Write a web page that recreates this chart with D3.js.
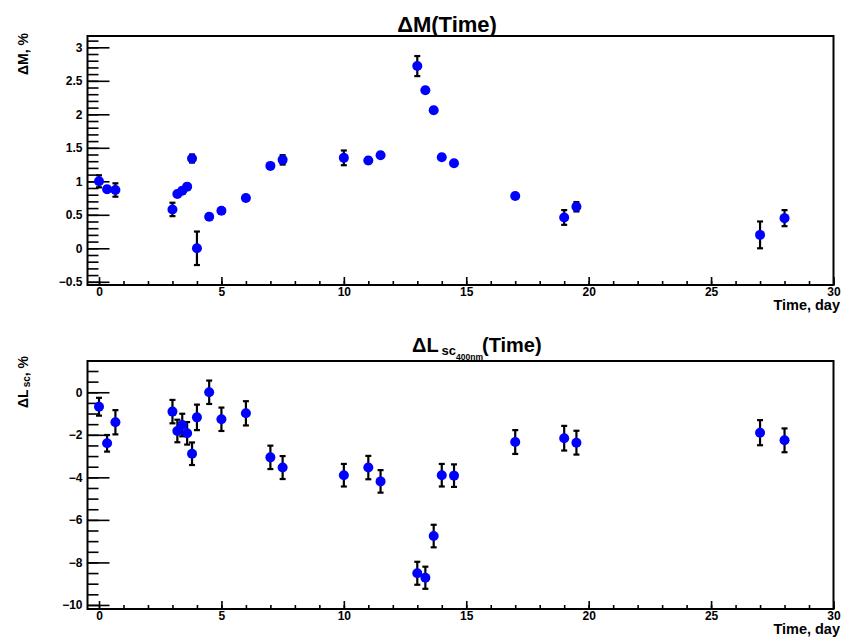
<!DOCTYPE html>
<html>
<head>
<meta charset="utf-8">
<script src="https://cdn.jsdelivr.net/npm/d3@7/dist/d3.min.js"></script>
<style>
  html, body { margin: 0; padding: 0; background: #ffffff; }
  svg { display: block; font-family: "Liberation Sans", Arial, Helvetica, sans-serif; font-weight: bold; }
</style>
</head>
<body>
<svg id="chart" width="844" height="642"></svg>
<script>
// Measurement days
const days = [0, 0.33, 0.67, 3, 3.2, 3.4, 3.6, 3.8, 4, 4.5, 5, 6, 7, 7.5,
              10, 11, 11.5, 13, 13.33, 13.67, 14, 14.5, 17, 19, 19.5, 27, 28];

// Mass change, % and its uncertainty
const massChange = [1.00, 0.88, 0.87, 0.58, 0.81, 0.86, 0.92, 1.34, 0.00, 0.47, 0.56, 0.75, 1.23, 1.32,
                    1.35, 1.31, 1.39, 2.72, 2.36, 2.06, 1.36, 1.27, 0.78, 0.46, 0.62, 0.20, 0.45];
const massErr = [0.09, 0.04, 0.10, 0.10, 0.04, 0.04, 0.04, 0.06, 0.25, 0.04, 0.04, 0.04, 0.04, 0.07,
                 0.11, 0.04, 0.04, 0.15, 0.04, 0.04, 0.04, 0.04, 0.04, 0.11, 0.07, 0.20, 0.12];

// Scintillation light yield change at 400 nm, % and its uncertainty
const lightChange = [-0.68, -2.40, -1.41, -0.91, -1.82, -1.54, -1.93, -2.89, -1.18, 0.00, -1.27, -0.99, -3.06, -3.54,
                     -3.90, -3.54, -4.19, -8.51, -8.72, -6.76, -3.90, -3.92, -2.34, -2.16, -2.37, -1.90, -2.26];
const lightErr = [0.42, 0.39, 0.57, 0.55, 0.53, 0.53, 0.53, 0.53, 0.60, 0.55, 0.55, 0.57, 0.55, 0.54,
                  0.53, 0.55, 0.53, 0.54, 0.52, 0.53, 0.53, 0.53, 0.56, 0.58, 0.56, 0.59, 0.56];

// Axis tick values and labels
const xMajorTicks = [0, 5, 10, 15, 20, 25, 30];
const massTicks = [-0.5, 0, 0.5, 1, 1.5, 2, 2.5, 3];
const massTickLabels = ["\u22120.5", "0", "0.5", "1", "1.5", "2", "2.5", "3"];
const lightTicks = [-10, -8, -6, -4, -2, 0];
const lightTickLabels = ["\u221210", "\u22128", "\u22126", "\u22124", "\u22122", "0"];

const svg = d3.select("#chart");

const frameLeft = 87.5, frameRight = 833.5;

function drawPanel(opts) {
  const g = svg.append("g");
  const x = d3.scaleLinear().domain([-0.47, 30]).range([frameLeft, frameRight]);
  const y = d3.scaleLinear().domain(opts.yDomain).range([opts.bottom, opts.top]);

  // x axis: minor ticks each day, major every 5 days, pointing into the frame
  g.append("g")
    .attr("transform", `translate(0,${opts.bottom})`)
    .call(d3.axisBottom(x).tickValues(d3.range(0, 31, 1)).tickSize(-4).tickFormat(""))
    .call(a => a.select(".domain").remove());
  const xa = g.append("g")
    .attr("transform", `translate(0,${opts.bottom})`)
    .call(d3.axisBottom(x).tickValues(xMajorTicks).tickSize(-8).tickPadding(2).tickFormat(d3.format("d")));
  xa.select(".domain").remove();
  xa.selectAll("text").attr("font-size", 12).attr("font-family", "Liberation Sans, Arial, sans-serif")
    .attr("font-weight", "bold").attr("fill", "#000");

  // y axis
  g.append("g")
    .attr("transform", `translate(${frameLeft},0)`)
    .call(d3.axisLeft(y).tickValues(opts.yMinor).tickSize(-11).tickFormat(""))
    .call(a => a.select(".domain").remove());
  const ya = g.append("g")
    .attr("transform", `translate(${frameLeft},0)`)
    .call(d3.axisLeft(y).tickValues(opts.yTicks).tickSize(-22).tickPadding(5)
      .tickFormat((d, i) => opts.yLabels[i]));
  ya.select(".domain").remove();
  ya.selectAll("text").attr("font-size", 12).attr("font-family", "Liberation Sans, Arial, sans-serif")
    .attr("font-weight", "bold").attr("fill", "#000");

  g.selectAll(".tick line").attr("stroke", "#000").attr("stroke-width", 1.6);

  // frame
  g.append("rect")
    .attr("x", frameLeft).attr("y", opts.top)
    .attr("width", frameRight - frameLeft).attr("height", opts.bottom - opts.top)
    .attr("fill", "none").attr("stroke", "#000").attr("stroke-width", 2);

  // error bars
  const pts = days.map((d, i) => ({ t: d, v: opts.values[i], e: opts.errors[i] }));
  const eb = g.append("g").attr("stroke", "#000").attr("stroke-width", 2.2);
  eb.selectAll("line.bar").data(pts).join("line").attr("class", "bar")
    .attr("x1", d => x(d.t)).attr("x2", d => x(d.t))
    .attr("y1", d => y(d.v - d.e)).attr("y2", d => y(d.v + d.e));
  eb.selectAll("line.capLo").data(pts).join("line").attr("class", "capLo")
    .attr("x1", d => x(d.t) - 3).attr("x2", d => x(d.t) + 3)
    .attr("y1", d => y(d.v - d.e)).attr("y2", d => y(d.v - d.e));
  eb.selectAll("line.capHi").data(pts).join("line").attr("class", "capHi")
    .attr("x1", d => x(d.t) - 3).attr("x2", d => x(d.t) + 3)
    .attr("y1", d => y(d.v + d.e)).attr("y2", d => y(d.v + d.e));

  // markers
  g.append("g").selectAll("circle").data(pts).join("circle")
    .attr("cx", d => x(d.t)).attr("cy", d => y(d.v)).attr("r", 5)
    .attr("fill", "#0000ff");

  // x title
  g.append("text")
    .attr("x", 840).attr("y", opts.bottom + 25)
    .attr("text-anchor", "end").attr("font-size", 14.5).attr("fill", "#000")
    .text("Time, day");

  return g;
}

drawPanel({
  top: 36, bottom: 285,
  yDomain: [-0.548, 3.169],
  yTicks: massTicks, yLabels: massTickLabels,
  yMinor: d3.range(-5, 32, 1).map(v => v / 10),
  values: massChange, errors: massErr
});

drawPanel({
  top: 361, bottom: 609,
  yDomain: [-10.19, 1.47],
  yTicks: lightTicks, yLabels: lightTickLabels,
  yMinor: d3.range(-20, 3, 1).map(v => v / 2),
  values: lightChange, errors: lightErr
});

// panel titles
svg.append("text")
  .attr("x", 447).attr("y", 32).attr("text-anchor", "middle")
  .attr("font-size", 22).attr("fill", "#000")
  .text("\u0394M(Time)");

const t2 = svg.append("text")
  .attr("x", 412).attr("y", 352).attr("font-size", 20).attr("fill", "#000");
t2.append("tspan").text("\u0394L");
t2.append("tspan").attr("dx", 3).attr("dy", 3).attr("font-size", 13).text("sc");
t2.append("tspan").attr("dy", 5).attr("font-size", 8.5).text("400nm");
t2.append("tspan").attr("dy", -8).attr("dx", -1).text("(Time)");

// y axis titles
svg.append("text")
  .attr("transform", "translate(28,33) rotate(-90)")
  .attr("text-anchor", "end").attr("font-size", 14).attr("fill", "#000")
  .text("\u0394M, %");

const yt2 = svg.append("text")
  .attr("transform", "translate(28,356) rotate(-90)")
  .attr("text-anchor", "end").attr("font-size", 14).attr("fill", "#000");
yt2.append("tspan").text("\u0394L");
yt2.append("tspan").attr("dx", 2).attr("dy", 2).attr("font-size", 10).text("sc");
yt2.append("tspan").attr("dy", -2).text(", %");
</script>
</body>
</html>
